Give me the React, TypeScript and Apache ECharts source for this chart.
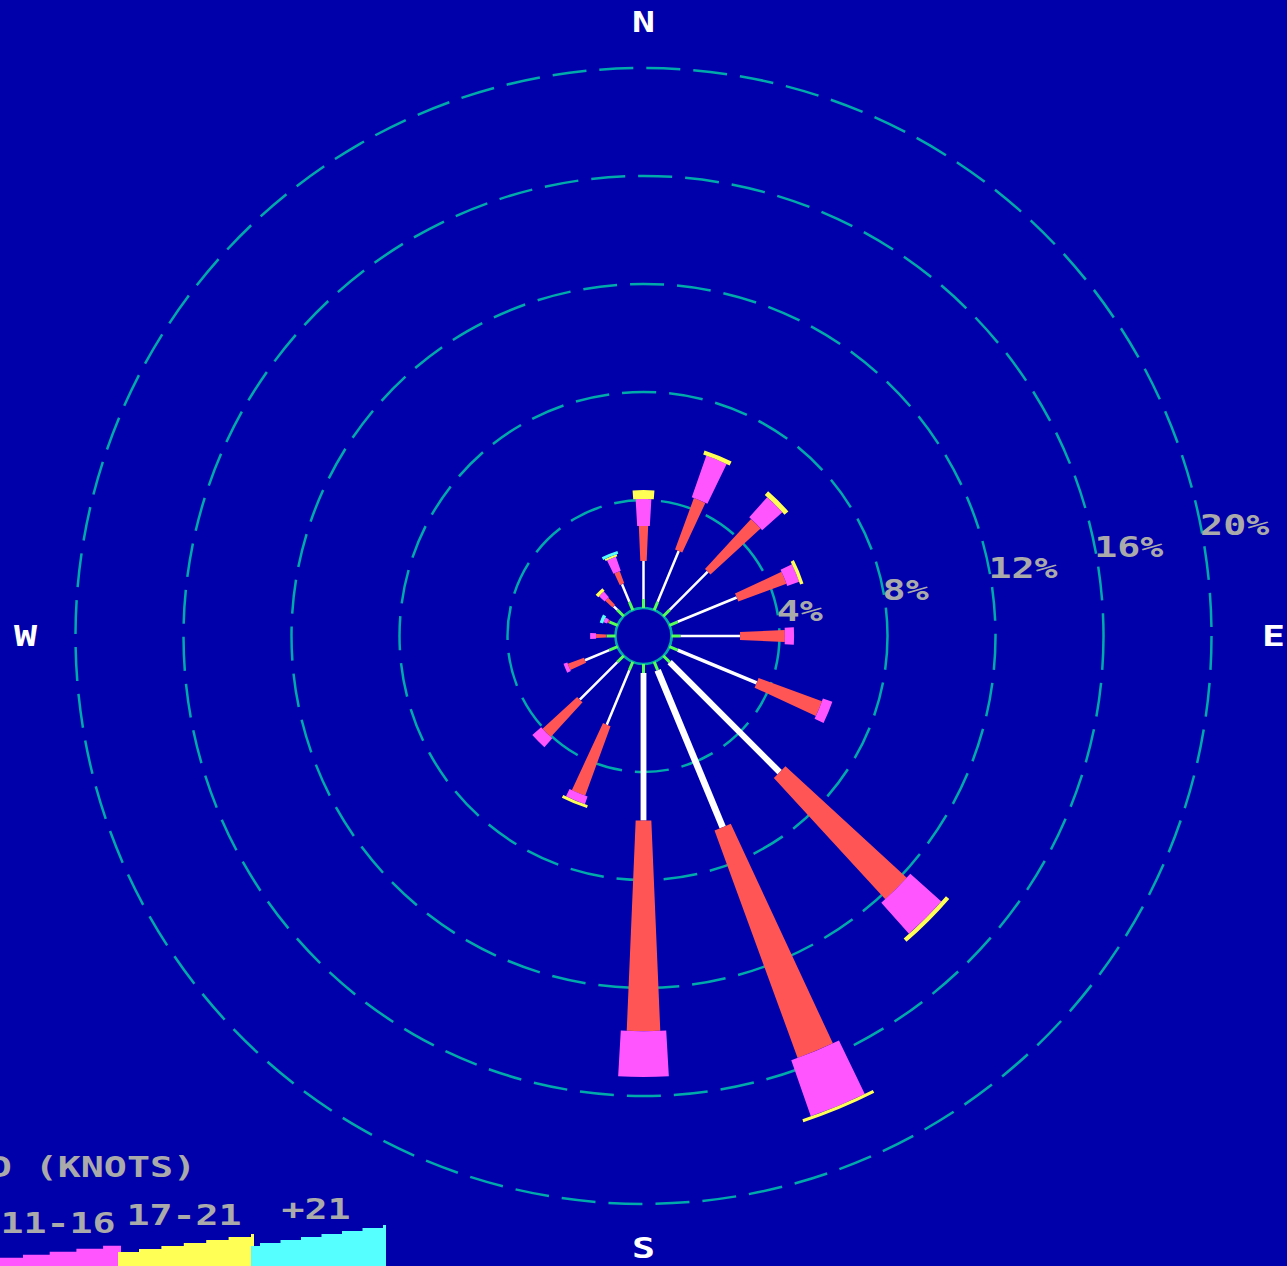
import React, { useEffect, useRef } from "react";
import * as echarts from "echarts";

// ---------------- DATA ----------------
const DIRECTIONS = ["N", "NNE", "NE", "ENE", "E", "ESE", "SE", "SSE", "S", "SSW", "SW", "WSW", "W", "WNW", "NW", "NNW"];
const DIRECTION_ANGLES = [0, 22.5, 45, 67.5, 90, 112.5, 135, 157.5, 180, 202.5, 225, 247.5, 270, 292.5, 315, 337.5];
const SPEED_CLASSES = ["1-3", "4-10", "11-16", "17-21", "+21"];
// frequency (%) of each speed class per direction
const SPEED_1_3 = [1.74, 2.37, 2.33, 2.7, 2.54, 3.5, 6.1, 6.63, 5.8, 2.52, 2.3, 1.31, 0, 0, 0.52, 1.04];
const SPEED_4_10 = [1.3, 2.03, 2.52, 1.9, 1.66, 2.5, 6.1, 8.97, 7.8, 2.74, 1.74, 0.64, 0.72, 0.39, 0.37, 0.48];
const SPEED_11_16 = [1.0, 1.64, 1.0, 0.47, 0.34, 0.37, 1.54, 2.2, 1.7, 0.3, 0.44, 0.15, 0.22, 0.14, 0.28, 0.55];
const SPEED_17_21 = [0.33, 0.16, 0.19, 0.13, 0, 0, 0.16, 0.12, 0, 0.11, 0, 0, 0, 0, 0.13, 0.08];
const SPEED_OVER_21 = [0, 0, 0, 0, 0, 0, 0, 0, 0, 0, 0, 0, 0, 0.13, 0, 0.11];
const RING_TICKS = [4, 8, 12, 16, 20];
const RING_LABELS = ["4%", "8%", "12%", "16%", "20%"];
const COMPASS_LABELS = ["N", "E", "S", "W"];
const COMPASS_ANGLES = [0, 90, 180, 270];
const LEGEND_TITLE = "WIND SPEED (KNOTS)";

// ---------------- STYLE ----------------
const BG = "#0000AA";
const TEAL = "#00AAAA";
const GREEN = "#55FF55";
const GRAY = "#AAAAAA";
const CLASS_COLORS = ["#FFFFFF", "#FF5555", "#FF55FF", "#FFFF55", "#55FFFF"];
const CLASS_ANGLE = [0, 0.085, 0.115, 0.15, 0.19];
const MIN_WIDTH_PX = [2.5, 3, 5, 5, 8];
const WHITE_PX_PER_PCT = 1.0;
const BAR_GAP_PX = 9;
const TICK_LEN_PX = 9;
const FONT = 'bold 29px "DejaVu Sans Mono"';
const FONT_SCALE_X = 1.32;
const RING_LABEL_ANGLE = 78.5;
const COMPASS_OFFSET_PX = [46, 62, 44, 50];
const W = 1287;
const H = 1266;

const LEGEND_BANDS = [
  { cls: 2, x0: -20, x1: 121, phase: 23, w: 26.7, top0: 1257.7, labelX: 58, labelY: 1223 },
  { cls: 3, x0: 118, x1: 254, phase: 139, w: 22.4, top0: 1252, labelX: 184, labelY: 1214.5 },
  { cls: 4, x0: 251, x1: 386, phase: 260, w: 20.5, top0: 1246, labelX: 316, labelY: 1209 },
];

function stairPoints(b: any, bottom: number) {
  const pts: number[][] = [[b.x0, bottom], [b.x0, b.top0]];
  let top = b.top0;
  let boundary = b.phase;
  while (boundary < b.x1) {
    pts.push([boundary, top]);
    top -= 3;
    pts.push([boundary, top]);
    boundary += b.w;
  }
  pts.push([b.x1, top]);
  pts.push([b.x1, bottom]);
  return pts;
}

const CLASS_VALUES = [SPEED_1_3, SPEED_4_10, SPEED_11_16, SPEED_17_21, SPEED_OVER_21];

function buildClassData(k: number) {
  return DIRECTIONS.map((_, i) => {
    let before = 0;
    for (let j = 0; j < k; j++) before += CLASS_VALUES[j][i];
    const v = CLASS_VALUES[k][i];
    return [before + v, DIRECTION_ANGLES[i], before, v];
  });
}

const dist = (p: number[], cx: number, cy: number) => Math.hypot(p[0] - cx, p[1] - cy);

function makeBarRender(k: number) {
  return (params: any, api: any) => {
    const end = api.value(0);
    const ang = api.value(1);
    const start = api.value(2);
    const val = api.value(3);
    if (!(val > 0)) return null;
    const cx = params.coordSys.cx;
    const cy = params.coordSys.cy;
    const pIn = api.coord([0, ang]);
    const pS = api.coord([start, ang]);
    const pE = api.coord([end, ang]);
    const base = dist(pIn, cx, cy) + BAR_GAP_PX;
    const r0 = Math.max(base, dist(pS, cx, cy));
    const r1 = dist(pE, cx, cy);
    if (r1 <= r0 + 0.01) return null;
    const th = Math.atan2(pE[1] - cy, pE[0] - cx);
    const fill = CLASS_COLORS[k];
    if (k === 0) {
      const hw = Math.max(MIN_WIDTH_PX[0], val * WHITE_PX_PER_PCT) / 2;
      const ux = Math.cos(th), uy = Math.sin(th);
      const nx = -uy, ny = ux;
      const points = [
        [cx + ux * r0 + nx * hw, cy + uy * r0 + ny * hw],
        [cx + ux * r1 + nx * hw, cy + uy * r1 + ny * hw],
        [cx + ux * r1 - nx * hw, cy + uy * r1 - ny * hw],
        [cx + ux * r0 - nx * hw, cy + uy * r0 - ny * hw],
      ];
      return { type: "polygon", shape: { points }, style: { fill } };
    }
    const half = Math.max(CLASS_ANGLE[k] / 2, MIN_WIDTH_PX[k] / 2 / r1);
    return {
      type: "sector",
      shape: { cx, cy, r0, r: r1, startAngle: th - half, endAngle: th + half, clockwise: true },
      style: { fill },
    };
  };
}

function textEl(x: number, y: number, text: string, fill: string, align: string, vAlign = "middle") {
  return {
    type: "text",
    x,
    y,
    scaleX: FONT_SCALE_X,
    style: {
      text,
      fill,
      font: FONT,
      align,
      verticalAlign: vAlign,
      textAlign: align,
      textVerticalAlign: vAlign,
    },
  };
}

export default function App() {
  const ref = useRef<HTMLDivElement>(null);

  useEffect(() => {
    if (!ref.current) return;
    const chart = echarts.init(ref.current, null, { renderer: "svg" });

    const barSeries = SPEED_CLASSES.map((name, k) => ({
      type: "custom",
      name,
      coordinateSystem: "polar",
      data: buildClassData(k),
      renderItem: makeBarRender(k),
      z: 5,
    }));

    const legendGraphics: any[] = [];
    LEGEND_BANDS.forEach((b) => {
      legendGraphics.push({
        type: "polygon",
        shape: { points: stairPoints(b, H) },
        style: { fill: CLASS_COLORS[b.cls] },
      });
    });
    LEGEND_BANDS.forEach((b) => {
      legendGraphics.push(textEl(b.labelX, b.labelY, SPEED_CLASSES[b.cls], GRAY, "center"));
    });
    legendGraphics.push(textEl(196, 1167, LEGEND_TITLE, GRAY, "right"));

    const option: any = {
      animation: false,
      backgroundColor: BG,
      polar: { center: [643.5, 636], radius: [28, 568] },
      angleAxis: {
        type: "value",
        min: 0,
        max: 360,
        startAngle: 90,
        clockwise: true,
        show: false,
      },
      radiusAxis: {
        type: "value",
        min: 0,
        max: 20,
        interval: 4,
        axisLine: { show: false },
        axisTick: { show: false },
        axisLabel: { show: false },
        splitLine: { show: true, lineStyle: { color: TEAL, width: 2.5, type: [34, 13] } },
      },
      graphic: { elements: legendGraphics },
      series: [
        {
          type: "custom",
          name: "calm",
          coordinateSystem: "polar",
          data: [[0, 0]],
          z: 3,
          renderItem: (params: any, api: any) => {
            const cx = params.coordSys.cx;
            const cy = params.coordSys.cy;
            const p = api.coord([0, 0]);
            return {
              type: "circle",
              shape: { cx, cy, r: dist(p, cx, cy) },
              style: { fill: BG, stroke: TEAL, lineWidth: 2.5 },
            };
          },
        },
        {
          type: "custom",
          name: "ticks",
          coordinateSystem: "polar",
          data: DIRECTION_ANGLES.map((a) => [0, a]),
          z: 4,
          renderItem: (params: any, api: any) => {
            const cx = params.coordSys.cx;
            const cy = params.coordSys.cy;
            const p = api.coord([0, api.value(1)]);
            const r = dist(p, cx, cy);
            const ux = (p[0] - cx) / r, uy = (p[1] - cy) / r;
            return {
              type: "line",
              shape: { x1: p[0], y1: p[1], x2: p[0] + ux * TICK_LEN_PX, y2: p[1] + uy * TICK_LEN_PX },
              style: { stroke: GREEN, lineWidth: 3 },
            };
          },
        },
        ...barSeries,
        {
          type: "custom",
          name: "ringLabels",
          coordinateSystem: "polar",
          data: RING_TICKS.map((v) => [v, RING_LABEL_ANGLE]),
          z: 6,
          renderItem: (params: any, api: any) => {
            const p = api.coord([api.value(0), api.value(1)]);
            return textEl(p[0], p[1] + 2, RING_LABELS[params.dataIndex], GRAY, "left");
          },
        },
        {
          type: "custom",
          name: "compass",
          coordinateSystem: "polar",
          data: COMPASS_ANGLES.map((a) => [20, a]),
          z: 6,
          renderItem: (params: any, api: any) => {
            const cx = params.coordSys.cx;
            const cy = params.coordSys.cy;
            const p = api.coord([api.value(0), api.value(1)]);
            const r = dist(p, cx, cy);
            const off = COMPASS_OFFSET_PX[params.dataIndex];
            const ux = (p[0] - cx) / r, uy = (p[1] - cy) / r;
            return textEl(p[0] + ux * off, p[1] + uy * off, COMPASS_LABELS[params.dataIndex], "#FFFFFF", "center");
          },
        },
      ],
    };

    chart.setOption(option);
    return () => chart.dispose();
  }, []);

  return (
    <div
      ref={ref}
      style={{ position: "fixed", left: 0, top: 0, width: W, height: H, background: BG }}
    />
  );
}
